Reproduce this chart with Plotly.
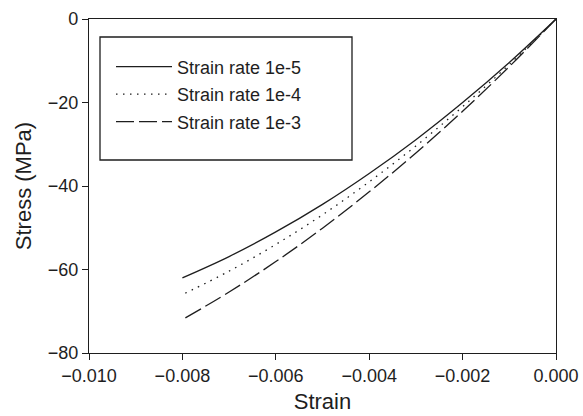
import plotly.graph_objects as go

strain = [0.0, -0.001, -0.002, -0.003, -0.004, -0.005, -0.006, -0.007, -0.008]
stress_1e5 = [0.0, -10.4, -20.0, -28.9, -37.0, -44.4, -51.0, -56.9, -62.0]
stress_1e4 = [0.0, -10.9, -21.0, -30.4, -39.0, -46.9, -54.0, -60.4, -66.0]
stress_1e3 = [0.0, -11.4, -22.1, -32.1, -41.4, -50.1, -58.1, -65.4, -72.0]
names = ["Strain rate 1e-5", "Strain rate 1e-4", "Strain rate 1e-3"]
x_ticks = [-0.010, -0.008, -0.006, -0.004, -0.002, 0.000]
x_labels = ["\u22120.010", "\u22120.008", "\u22120.006", "\u22120.004", "\u22120.002", "0.000"]
y_ticks = [-80, -60, -40, -20, 0]
y_labels = ["\u221280", "\u221260", "\u221240", "\u221220", "0"]

W, H = 583, 416
ml, mr, mt, mb = 89, 27, 19, 63
pw, ph = W - ml - mr, H - mt - mb

col = "#1e1e1e"
fam = "Liberation Sans, Arial, sans-serif"

def px_x(p):
    return (p - ml) / pw
def px_y(p):
    return (H - mb - p) / ph

fig = go.Figure()
legend_ids = ["legend", "legend2", "legend3"]
row_y = [67, 94.5, 122]
for ys, nm, dash, lid in zip([stress_1e5, stress_1e4, stress_1e3], names,
                             ["solid", "1.5px,5.5px", "18px,5px"], legend_ids):
    fig.add_trace(go.Scatter(x=strain, y=ys, mode="lines", name=nm, legend=lid,
                             line=dict(color=col, width=1.3, dash=dash, shape="spline")))

fig.add_shape(type="rect", xref="paper", yref="paper",
              x0=px_x(100), x1=px_x(352), y0=px_y(160), y1=px_y(37),
              line=dict(color=col, width=1.3), fillcolor="rgba(0,0,0,0)")

legs = {}
for lid, ry in zip(legend_ids, row_y):
    legs[lid] = dict(x=px_x(111), y=px_y(ry), xanchor="left", yanchor="middle",
                     bgcolor="rgba(0,0,0,0)", borderwidth=0, itemwidth=56,
                     font=dict(size=18, family=fam, color=col))

fig.update_layout(
    width=W, height=H,
    margin=dict(l=ml, r=mr, t=mt, b=mb, autoexpand=False),
    paper_bgcolor="white", plot_bgcolor="white",
    font=dict(family=fam, size=18, color=col),
    showlegend=True,
    xaxis=dict(range=[-0.010, 0.000], tickvals=x_ticks, ticktext=x_labels,
               ticks="outside", ticklen=6, tickwidth=1.3, tickcolor=col,
               showline=True, linecolor=col, linewidth=1.3, mirror=True,
               showgrid=False, zeroline=False, automargin=False,
               title=dict(text="Strain", standoff=8)),
    yaxis=dict(range=[-80, 0], tickvals=y_ticks, ticktext=y_labels,
               ticks="outside", ticklen=6, tickwidth=1.3, tickcolor=col,
               showline=True, linecolor=col, linewidth=1.3, mirror=True,
               showgrid=False, zeroline=False, automargin=False,
               title=dict(text="Stress (MPa)", standoff=10)),
    **legs,
)
fig.write_html("out.html")
